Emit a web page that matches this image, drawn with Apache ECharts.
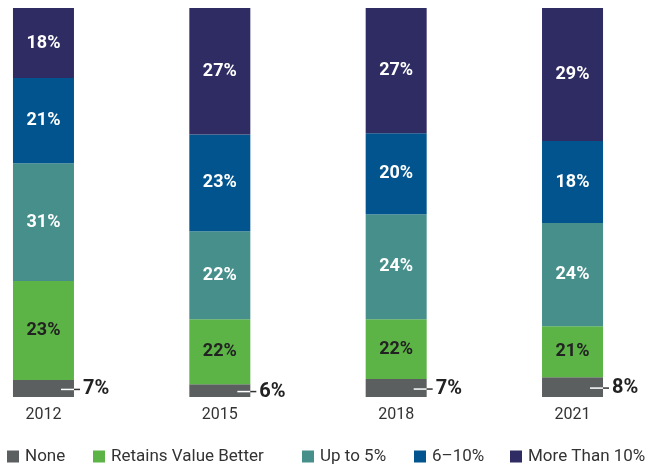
<!DOCTYPE html>
<html>
<head>
<meta charset="utf-8">
<script src="https://cdn.jsdelivr.net/npm/echarts@6/dist/echarts.min.js"></script>
<style>html,body{margin:0;padding:0;background:#fff}#c{width:660px;height:466px}</style>
</head>
<body>
<div id="c"></div>
<script>
// Categories
var years = ['2012', '2015', '2018', '2021'];
var seriesNames = ['None', 'Retains Value Better', 'Up to 5%', '6\u201310%', 'More Than 10%'];
// Segment heights as drawn (share of bar, %)
var noneVals   = [4.4, 3.3, 4.6, 5.1];
var retainVals = [25.4, 16.7, 15.4, 13.1];
var upTo5Vals  = [30.3, 22.6, 27.0, 26.5];
var six10Vals  = [21.9, 24.9, 20.8, 21.1];
var over10Vals = [18.0, 32.5, 32.2, 34.2];
// Printed labels (%)
var noneLabels   = [7, 6, 7, 8];
var retainLabels = [23, 22, 22, 21];
var upTo5Labels  = [31, 22, 24, 24];
var six10Labels  = [21, 23, 20, 18];
var over10Labels = [18, 27, 27, 29];

var colors = ['#5b5f60', '#5db446', '#468f8b', '#02548f', '#2e2c63'];
var legendLeft = [7, 93, 302, 414, 510];
var FONT = 'Roboto';

function innerLabel(labels, color) {
  return {
    show: true, position: 'inside',
    fontFamily: FONT, fontWeight: 'bold', fontSize: 18, color: color,
    formatter: function (p) { return labels[p.dataIndex] + '%'; }
  };
}

var chart = echarts.init(document.getElementById('c'), null, {renderer: 'canvas'});
var base = { type: 'bar', stack: 'all', barWidth: 61, emphasis: {disabled: true} };

var legends = seriesNames.map(function (n, i) {
  return {
    left: legendLeft[i], top: 448, itemWidth: 12, itemHeight: 12,
    icon: 'rect', selectedMode: false, padding: 0,
    textStyle: { fontFamily: FONT, fontSize: 17, color: '#333', padding: [0, 0, 0, 1] },
    data: [n]
  };
});

chart.setOption({
  animation: false,
  color: colors,
  grid: { left: -44.7, right: -0.7, top: 8, bottom: 69, containLabel: false, outerBoundsMode: 'none' },
  xAxis: {
    type: 'category', data: years,
    axisLine: {show: false}, axisTick: {show: false},
    axisLabel: { margin: 10, fontFamily: FONT, fontSize: 16, color: '#333' }
  },
  yAxis: { type: 'value', min: 0, max: 100, show: false, splitLine: {show: false} },
  legend: legends,
  series: [
    Object.assign({}, base, {
      name: seriesNames[0], data: noneVals,
      label: {
        show: true, position: 'right', distance: 0, offset: [-13, 1],
        formatter: function (p) { return '{a|}{b|}{t|' + noneLabels[p.dataIndex] + '%}'; },
        rich: {
          a: { width: 13, height: 1.5, backgroundColor: '#ffffff', verticalAlign: 'middle' },
          b: { width: 6, height: 1.5, backgroundColor: '#333333', verticalAlign: 'middle' },
          t: { fontFamily: FONT, fontWeight: 'bold', fontSize: 20, color: '#222', padding: [0, 0, 0, 3], verticalAlign: 'middle' }
        }
      }
    }),
    Object.assign({}, base, { name: seriesNames[1], data: retainVals, label: innerLabel(retainLabels, '#222') }),
    Object.assign({}, base, { name: seriesNames[2], data: upTo5Vals, label: innerLabel(upTo5Labels, '#fff') }),
    Object.assign({}, base, { name: seriesNames[3], data: six10Vals, label: innerLabel(six10Labels, '#fff') }),
    Object.assign({}, base, { name: seriesNames[4], data: over10Vals, label: innerLabel(over10Labels, '#fff') })
  ]
});
</script>
</body>
</html>
